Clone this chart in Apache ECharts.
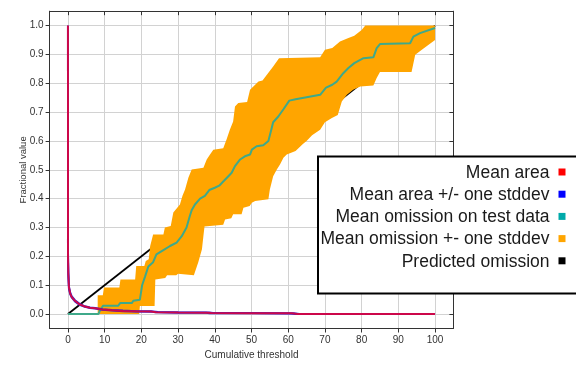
<!DOCTYPE html>
<html>
<head>
<meta charset="utf-8">
<script src="https://cdn.jsdelivr.net/npm/echarts@6/dist/echarts.min.js"></script>
<style>
  html, body { margin: 0; padding: 0; background: #ffffff; }
  #chart { width: 576px; height: 365px; }
</style>
</head>
<body>
<div id="chart"></div>
<script>
// Tick positions
const xTicks = [0, 10, 20, 30, 40, 50, 60, 70, 80, 90, 100];
const yTicks = [0.0, 0.1, 0.2, 0.3, 0.4, 0.5, 0.6, 0.7, 0.8, 0.9, 1.0];

// Legend entries
const legendNames = ['Mean area', 'Mean area +/- one stddev', 'Mean omission on test data', 'Mean omission +- one stddev', 'Predicted omission'];
const legendColors = ['#ff0000', '#0000ff', '#00aaaa', '#ffa500', '#000000'];

// Mean fractional predicted area vs cumulative threshold
const meanArea = [[0, 1.0], [0.02, 0.2], [0.1, 0.14], [0.27, 0.092], [0.6, 0.072], [1, 0.06], [1.9, 0.046], [3, 0.035], [4.6, 0.026], [6, 0.022], [7.4, 0.02], [9.4, 0.016], [12, 0.013], [15, 0.011], [18.5, 0.0095], [22.6, 0.009], [24, 0.0065], [30, 0.0055], [38, 0.005], [39, 0.0035], [50, 0.003], [61, 0.0025], [62.5, 0.0003], [80, 0.0001], [100, 0.0]];
const meanAreaHigh = [[0, 1.0], [0.02, 0.21], [0.1, 0.145], [0.27, 0.096], [0.6, 0.075], [1, 0.062], [1.9, 0.048], [3, 0.037], [4.6, 0.027], [6, 0.023], [7.4, 0.021], [9.4, 0.017], [12, 0.014], [15, 0.012], [18.5, 0.01], [22.6, 0.0095], [24.5, 0.007], [30, 0.006], [38.5, 0.0055], [39.5, 0.004], [50, 0.0035], [61.5, 0.003], [63, 0.0005], [80, 0.0002], [100, 0.0]];
const meanAreaLow = [[0, 0.26], [0.02, 0.18], [0.1, 0.135], [0.27, 0.088], [0.6, 0.069], [1, 0.058], [1.9, 0.044], [3, 0.033], [4.6, 0.025], [6, 0.021], [7.4, 0.019], [9.4, 0.015], [12, 0.012], [15, 0.01], [18.5, 0.009], [22.6, 0.0085], [23.8, 0.006], [30, 0.005], [37.6, 0.0045], [38.6, 0.003], [50, 0.0025], [60.5, 0.002], [62, 0.0], [100, 0.0]];

// Mean omission on test data
const omission = [[0, 0], [8.3, 0], [8.8, 0.015], [9.6, 0.029], [13.7, 0.029], [14.2, 0.038], [17.4, 0.038], [17.8, 0.046], [19.6, 0.05], [20.2, 0.1], [21, 0.13], [21.9, 0.165], [23.2, 0.18], [24.1, 0.207], [26, 0.222], [27.8, 0.236], [29.6, 0.248], [31, 0.27], [32.3, 0.3], [33.2, 0.34], [33.7, 0.36], [34.6, 0.38], [36, 0.4], [37.3, 0.41], [38.5, 0.43], [40, 0.438], [41.2, 0.445], [42.5, 0.462], [43.7, 0.478], [44.6, 0.49], [45.5, 0.513], [46.9, 0.536], [48.2, 0.547], [49.6, 0.553], [50.1, 0.57], [51.4, 0.582], [53.2, 0.585], [54.6, 0.6], [55.3, 0.635], [55.9, 0.665], [57.3, 0.685], [58.7, 0.71], [60.3, 0.74], [62, 0.745], [65, 0.752], [68.7, 0.76], [70.3, 0.785], [72, 0.795], [73.2, 0.806], [75, 0.835], [76.4, 0.853], [78, 0.87], [80.5, 0.887], [83.2, 0.89], [84.1, 0.922], [85, 0.936], [93.2, 0.939], [94.1, 0.962], [95.9, 0.974], [100, 0.992]];

// Omission +/- one standard deviation
const omissionHigh = [[8.1, 0.065], [9.5, 0.065], [9.8, 0.092], [14, 0.092], [14.3, 0.12], [18.3, 0.12], [18.6, 0.167], [20.8, 0.167], [21.2, 0.184], [22, 0.19], [22.4, 0.236], [23.2, 0.276], [26, 0.276], [26.4, 0.3], [28, 0.305], [28.7, 0.352], [30.5, 0.38], [31.2, 0.41], [31.9, 0.432], [32.8, 0.473], [33.7, 0.501], [36.9, 0.507], [37.8, 0.536], [38.7, 0.553], [39.6, 0.57], [42.3, 0.575], [43.2, 0.605], [44.1, 0.639], [45, 0.668], [45.5, 0.72], [46.4, 0.732], [48.8, 0.735], [49.6, 0.778], [51.9, 0.806], [53, 0.81], [55.9, 0.858], [57.5, 0.887], [68.7, 0.89], [70, 0.916], [72, 0.922], [74.1, 0.945], [76.4, 0.957], [78, 0.965], [80, 0.985], [81, 1.0], [100, 1.0]];
const omissionLow = [[8.1, 0], [19.4, 0], [19.6, 0.028], [23.6, 0.028], [23.8, 0.12], [26.5, 0.125], [27, 0.135], [29.5, 0.135], [30, 0.14], [34.3, 0.135], [35.5, 0.18], [36.5, 0.225], [36.9, 0.271], [37.2, 0.304], [42.3, 0.31], [42.8, 0.328], [44.5, 0.332], [45, 0.346], [47.3, 0.346], [47.8, 0.369], [49.5, 0.375], [50.1, 0.386], [51, 0.392], [54.6, 0.398], [55, 0.432], [55.9, 0.478], [56.9, 0.501], [57.8, 0.519], [58.7, 0.542], [59.6, 0.553], [62, 0.565], [64, 0.59], [65, 0.6], [66.5, 0.62], [68.7, 0.639], [70, 0.665], [71.9, 0.68], [73.5, 0.69], [74.6, 0.737], [76, 0.76], [77.7, 0.778], [79.6, 0.789], [83.2, 0.792], [84.1, 0.818], [85, 0.839], [93.6, 0.839], [94.6, 0.899], [96.4, 0.916], [100, 0.95]];

// Predicted omission
const predicted = [[0, 0], [100, 1]];

const FONT = "'Liberation Sans', Arial, sans-serif";
const AXIS_COLOR = '#333333';
const GRID_COLOR = '#d2d2d2';

const chart = echarts.init(document.getElementById('chart'), null, { renderer: 'canvas' });

function lineSeries(name, data, color, width, z) {
  return {
    name: name, type: 'line', data: data, showSymbol: false, symbol: 'none',
    lineStyle: { color: color, width: width }, z: z, silent: true, animation: false
  };
}

// Legend box drawn on the right
const legendGraphics = [{
  type: 'rect', z: 100,
  shape: { x: 318, y: 156.5, width: 270, height: 137 },
  style: { fill: '#ffffff', stroke: '#000000', lineWidth: 2 }
}];
const rowY0 = 172, rowStep = 22.2;
legendNames.forEach(function (name, i) {
  const cy = rowY0 + i * rowStep;
  legendGraphics.push({
    type: 'text', z: 101, x: 549.5, y: cy + 1,
    style: { text: name, fill: '#1a1a1a', font: "17.5px " + FONT, textAlign: 'right', textVerticalAlign: 'middle' }
  });
  legendGraphics.push({
    type: 'rect', z: 101,
    shape: { x: 558.5, y: cy - 3.5, width: 7, height: 7 },
    style: { fill: legendColors[i] }
  });
});

const option = {
  backgroundColor: '#ffffff',
  animation: false,
  grid: { left: 49.6, right: 122.6, top: 11.2, bottom: 35.5, show: false },
  xAxis: [{
    type: 'value', min: -5, max: 105, position: 'bottom',
    name: 'Cumulative threshold', nameLocation: 'middle', nameGap: 21.5, nameMoveOverlap: false,
    nameTextStyle: { color: AXIS_COLOR, fontSize: 10, fontFamily: FONT },
    axisLine: { show: true, onZero: false, lineStyle: { color: AXIS_COLOR, width: 1 } },
    axisTick: { show: true, inside: false, length: 4, customValues: xTicks, lineStyle: { color: AXIS_COLOR } },
    axisLabel: { customValues: xTicks, color: AXIS_COLOR, fontSize: 10, fontFamily: FONT, margin: 7 },
    splitLine: { show: true, lineStyle: { color: GRID_COLOR, width: 1 } }
  }, {
    type: 'value', min: -5, max: 105, position: 'top',
    axisLine: { show: true, onZero: false, lineStyle: { color: AXIS_COLOR, width: 1 } },
    axisTick: { show: true, inside: true, length: 4, customValues: xTicks, lineStyle: { color: AXIS_COLOR } },
    axisLabel: { show: false, customValues: xTicks },
    splitLine: { show: false }
  }],
  yAxis: [{
    type: 'value', min: -0.05, max: 1.05, position: 'left',
    name: 'Fractional value', nameLocation: 'middle', nameGap: 21, nameRotate: 90, nameMoveOverlap: false,
    nameTextStyle: { color: AXIS_COLOR, fontSize: 9.5, fontFamily: FONT },
    axisLine: { show: true, onZero: false, lineStyle: { color: AXIS_COLOR, width: 1 } },
    axisTick: { show: true, inside: false, length: 4, customValues: yTicks, lineStyle: { color: AXIS_COLOR } },
    axisLabel: { customValues: yTicks, color: AXIS_COLOR, fontSize: 10, fontFamily: FONT, margin: 6,
      formatter: function (v) { return v.toFixed(1); } },
    splitLine: { show: true, lineStyle: { color: GRID_COLOR, width: 1 } }
  }, {
    type: 'value', min: -0.05, max: 1.05, position: 'right',
    axisLine: { show: true, onZero: false, lineStyle: { color: AXIS_COLOR, width: 1 } },
    axisTick: { show: true, inside: true, length: 4, customValues: yTicks, lineStyle: { color: AXIS_COLOR } },
    axisLabel: { show: false, customValues: yTicks },
    splitLine: { show: false }
  }],
  graphic: legendGraphics,
  series: [
    lineSeries(legendNames[4], predicted, '#000000', 1.8, 1),
    {
      name: legendNames[3], type: 'custom', z: 2, silent: true, animation: false,
      clip: true,
      data: [[0, 0]],
      renderItem: function (params, api) {
        const pts = omissionHigh.map(function (p) { return api.coord(p); })
          .concat(omissionLow.slice().reverse().map(function (p) { return api.coord(p); }));
        return { type: 'polygon', shape: { points: pts }, style: { fill: '#ffa500' } };
      }
    },
    lineSeries(legendNames[2], omission, '#3fa98a', 2, 3),
    lineSeries(legendNames[1], meanAreaHigh, '#2a2ae0', 2, 4),
    lineSeries(legendNames[1] + ' low', meanAreaLow, '#2a2ae0', 2, 4),
    lineSeries(legendNames[0], meanArea, 'rgba(240,0,40,0.82)', 2, 5)
  ]
};

chart.setOption(option);
</script>
</body>
</html>
